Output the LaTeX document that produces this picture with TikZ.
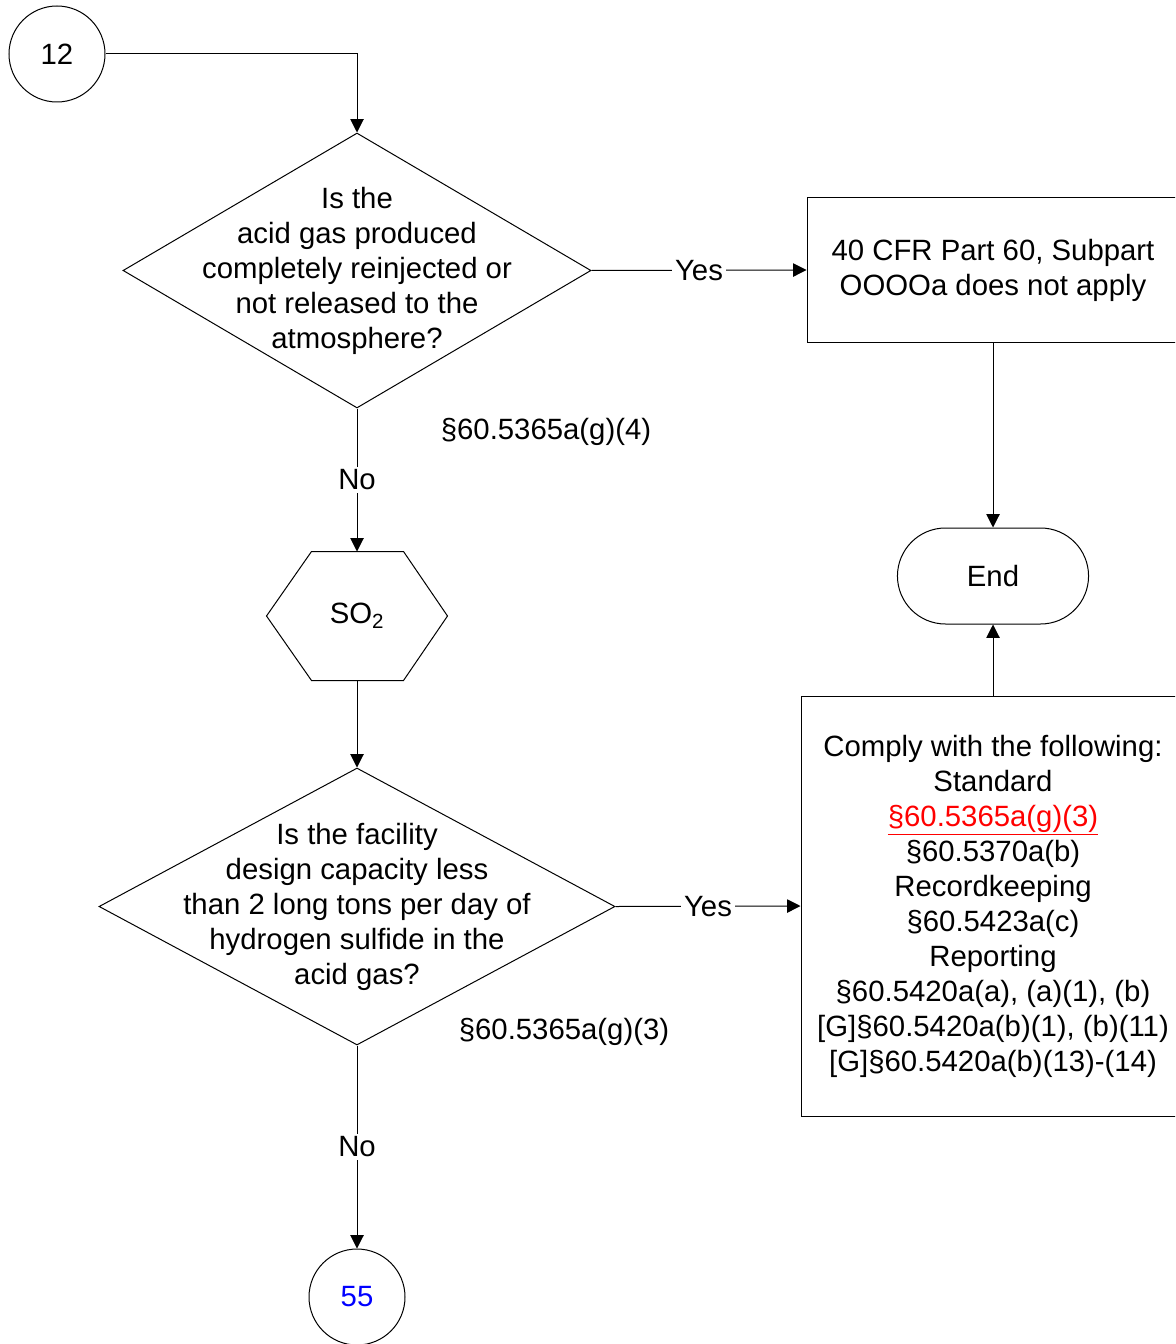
\documentclass[tikz,border=0pt]{standalone}
\usepackage{fontspec}
\setmainfont{Liberation Sans}
\usetikzlibrary{arrows.meta,calc,shapes.geometric,shapes.misc}

\tikzset{
  flow/.style={-{Triangle[length=10pt,width=10pt]}},
  conn/.style={circle,draw,minimum size=72pt,inner sep=0pt},
  decision/.style={diamond,draw,inner sep=0pt},
  qtext/.style={align=center,inner sep=0pt},
  outcome/.style={rectangle,draw,align=center,inner sep=0pt},
  term/.style={rounded rectangle,draw,minimum width=150pt,minimum height=72pt},
  answer/.style={fill=white,inner sep=2pt},
}

\begin{document}
\begin{tikzpicture}[x=0.75pt,y=-0.75pt,font=\fontsize{22}{26.25}\selectfont,line width=0.75pt]
\useasboundingbox (0,0) rectangle (1175,1344);
\clip (0,0) rectangle (1175,1344);
% left column: connector, first question, SO2 step, second question
\node[conn] (c12) at (57,54) {12};
\node[decision,minimum width=351pt,minimum height=206.25pt] (q1) at (357,270.5) {};
\node[qtext] (q1text) at (q1) {Is the\\acid gas produced\\completely reinjected or\\not released to the\\atmosphere?};
\node (q1ref) at (546,432) {§60.5365a(g)(4)};
\node[inner sep=0pt,minimum width=135pt,minimum height=96pt] (hex) at (357,616) {SO\textsubscript{2}};
\draw ($(hex.north west)+(45,0)$) -- ($(hex.north east)+(-44,0)$) -- (hex.east)
  -- ($(hex.south east)+(-44,0)$) -- ($(hex.south west)+(45,0)$) -- (hex.west) -- cycle;
\node[decision,minimum width=387pt,minimum height=207.75pt] (q2) at (357,906.5) {};
\node[qtext] (q2text) at (q2) {Is the facility\\design capacity less\\than 2 long tons per day of\\hydrogen sulfide in the\\acid gas?};
\node (q2ref) at (564,1032) {§60.5365a(g)(3)};
\node[conn,text=blue] (c55) at (357,1297) {55};
% right column: outcomes
\node[outcome,minimum width=279pt,minimum height=108pt] (na) at (993,270) {40 CFR Part 60, Subpart\\OOOOa does not apply};
\node[term] (end) at (993,576) {End};
\node[outcome,minimum width=288pt,minimum height=315pt] (comply) at (993,906) {Comply with the following:\\Standard\\\textcolor{red}{\underline{§60.5365a(g)(3)}}\\§60.5370a(b)\\Recordkeeping\\§60.5423a(c)\\Reporting\\§60.5420a(a), (a)(1), (b)\\{[G]}§60.5420a(b)(1), (b)(11)\\{[G]}§60.5420a(b)(13)-(14)};
% connectors
\draw[flow] (c12.east) -| (q1.north);
\draw[flow] (q1.east) -- node[answer] {Yes} (na.west);
\draw[flow] (q1.south) -- node[answer] {No} (hex.north);
\draw[flow] (hex.south) -- (q2.north);
\draw[flow] (q2.east) -- node[answer] {Yes} (comply.west);
\draw[flow] (q2.south) -- node[answer] {No} (c55.north);
\draw[flow] (na.south) -- (end.north);
\draw[flow] (comply.north) -- (end.south);
\end{tikzpicture}
\end{document}
